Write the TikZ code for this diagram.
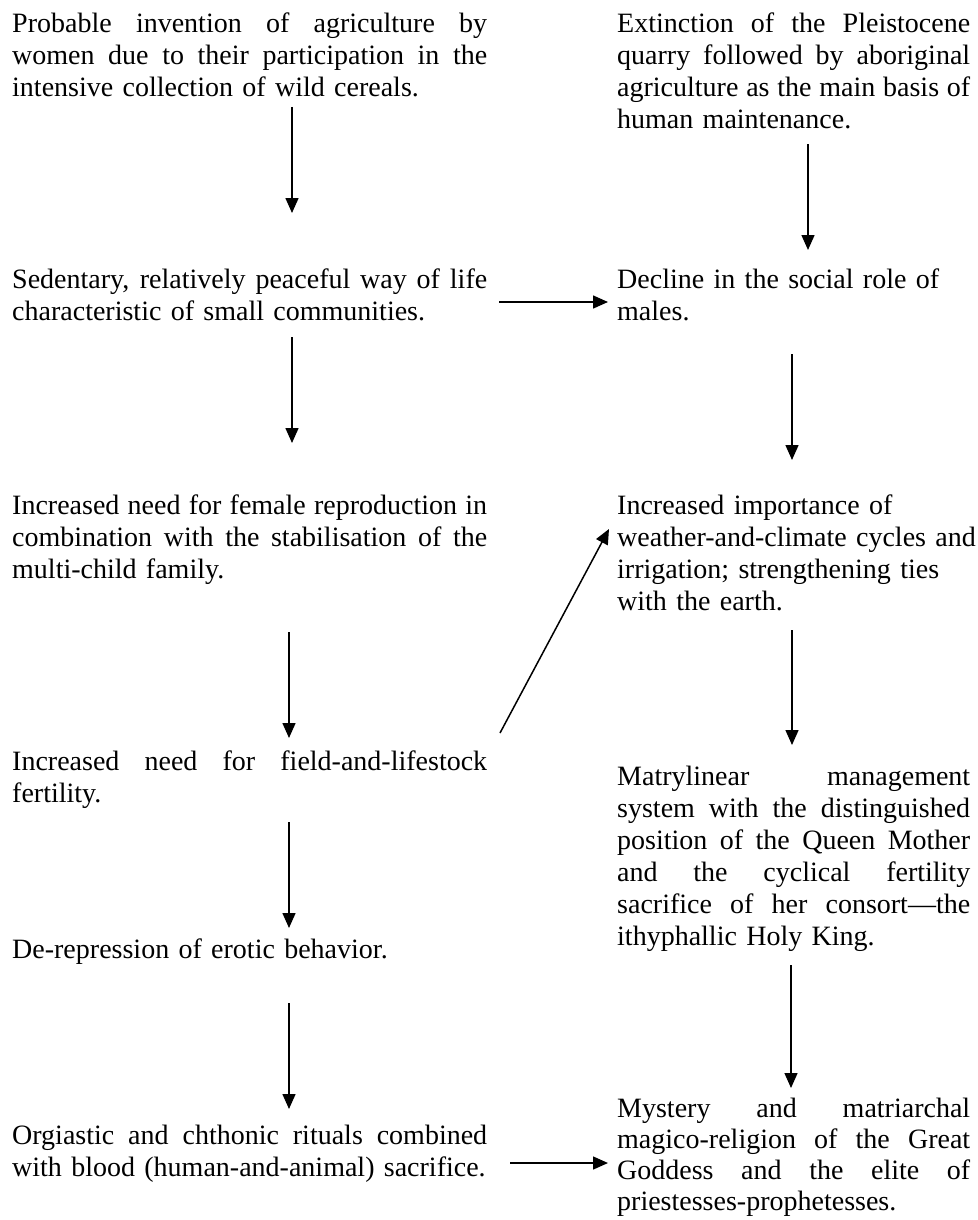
\documentclass[tikz,border=0pt]{standalone}
\usepackage{fontspec}
\setmainfont{Liberation Serif}
\usetikzlibrary{arrows.meta}
\newcommand{\jl}[1]{\makebox[\hsize][s]{\spaceskip=0pt\relax #1}}
\begin{document}
\begin{tikzpicture}[x=1pt,y=-1pt,
  txt/.style={anchor=base west, inner sep=0pt, align=left,
    font=\fontsize{28}{32}\selectfont},
  lw/.style={txt, text width=475pt},
  rw/.style={txt, text width=353pt},
  rwr/.style={txt, text width=365pt},
  arr/.style={-{Triangle[length=15pt,width=13pt]}, line width=1.5pt}]
\useasboundingbox (0,0) rectangle (977,1220);

% left column
\node[lw] (l1) at (12,33) {\jl{Probable invention of agriculture by}\\\jl{women due to their participation in the}\\intensive collection of wild cereals.};
\node[lw] (l2) at (12,288) {\jl{Sedentary, relatively peaceful way of life}\\characteristic of small communities.};
\node[lw] (l3) at (12,514) {\jl{Increased need for female reproduction in}\\\jl{combination with the stabilisation of the}\\multi-child family.};
\node[lw] (l4) at (12,770) {\jl{Increased need for field-and-lifestock}\\fertility.};
\node[lw] (l5) at (12,958) {De-repression of erotic behavior.};
\node[lw] (l6) at (12,1144) {\jl{Orgiastic and chthonic rituals combined}\\with blood (human-and-animal) sacrifice.};

% right column
\node[rw] (r1) at (617,33) {\jl{Extinction of the Pleistocene}\\\jl{quarry followed by aboriginal}\\\jl{agriculture as the main basis of}\\human maintenance.};
\node[rwr] (r2) at (617,288) {Decline in the social role of\\males.};
\node[rwr] (r3) at (617,514) {Increased importance of\\weather-and-climate cycles and\\irrigation; strengthening ties\\with the earth.};
\node[rw] (r4) at (617,785) {\jl{Matrylinear management}\\\jl{system with the distinguished}\\\jl{position of the Queen Mother}\\\jl{and the cyclical fertility}\\\jl{sacrifice of her consort---the}\\ithyphallic Holy King.};
\node[rw, font=\fontsize{28}{31}\selectfont] (r5) at (617,1117) {\jl{Mystery and matriarchal}\\\jl{magico-religion of the Great}\\\jl{Goddess and the elite of}\\priestesses-prophetesses.};

% connector end points
\coordinate (a1s) at (292,107);  \coordinate (a1e) at (292,213);
\coordinate (a2s) at (292,337);  \coordinate (a2e) at (292,443);
\coordinate (a3s) at (289,632);  \coordinate (a3e) at (289,738);
\coordinate (a4s) at (289,822);  \coordinate (a4e) at (289,928);
\coordinate (a5s) at (289,1003); \coordinate (a5e) at (289,1109);
\coordinate (b1s) at (808,144);  \coordinate (b1e) at (808,250);
\coordinate (b2s) at (792,354);  \coordinate (b2e) at (792,460);
\coordinate (b3s) at (792,630);  \coordinate (b3e) at (792,745);
\coordinate (b4s) at (791,965);  \coordinate (b4e) at (791,1088);
\coordinate (h1s) at (499,302);  \coordinate (h1e) at (608,302);
\coordinate (h2s) at (510,1163); \coordinate (h2e) at (608,1163);
\coordinate (ds) at (500,733);   \coordinate (de) at (609,529);

\draw[arr] (a1s) -- (a1e);
\draw[arr] (a2s) -- (a2e);
\draw[arr] (a3s) -- (a3e);
\draw[arr] (a4s) -- (a4e);
\draw[arr] (a5s) -- (a5e);
\draw[arr] (b1s) -- (b1e);
\draw[arr] (b2s) -- (b2e);
\draw[arr] (b3s) -- (b3e);
\draw[arr] (b4s) -- (b4e);
\draw[arr] (h1s) -- (h1e);
\draw[arr] (h2s) -- (h2e);
\draw[arr] (ds) -- (de);
\end{tikzpicture}
\end{document}
